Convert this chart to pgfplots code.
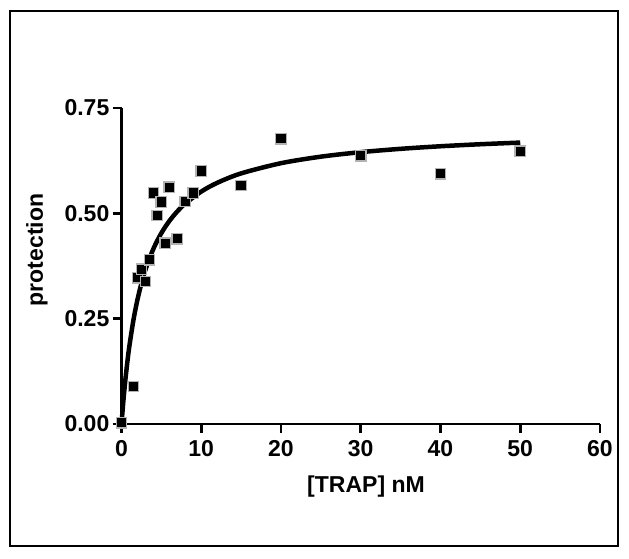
\documentclass[border=0pt]{standalone}
\usepackage{pgfplots}
\pgfplotsset{compat=1.18}
\usepackage{fontspec}
\setmainfont{Liberation Sans}
\begin{document}
\begin{tikzpicture}[x=1pt,y=1pt]
\useasboundingbox (0,0) rectangle (629,559);
\draw[line width=2.5pt] (10,13) rectangle (618,548);
\begin{axis}[
  at={(121.5pt,135pt)}, anchor=south west,
  scale only axis, width=478.5pt, height=316pt,
  xmin=0, xmax=60, ymin=0, ymax=0.75,
  axis x line=bottom, axis y line=left,
  axis line style={line width=2.8pt, -},
  xtick={0,10,20,30,40,50,60},
  xticklabels={0,10,20,30,40,50,60},
  ytick={0,0.25,0.5,0.75},
  yticklabels={0.00,0.25,0.50,0.75},
  tick align=outside, major tick length=9pt,
  tick style={line width=2.8pt, black},
  tick label style={font=\fontsize{23}{26}\selectfont\bfseries},
  xticklabel style={inner sep=2pt, yshift=-5pt},
  yticklabel style={inner sep=3pt},
  clip=false,
]
\addplot[line width=4.5pt, black, smooth] coordinates {
(0,0) (0.25,0.0582) (0.5,0.1075) (0.75,0.1498) (1,0.1865) (1.5,0.2471)
(2,0.295) (2.5,0.3338) (3,0.3659) (4,0.4159) (5,0.4531) (6,0.4818)
(7,0.5046) (8,0.5232) (10,0.5516) (12,0.5724) (15,0.5948) (20,0.619)
(25,0.6345) (30,0.6452) (35,0.6531) (40,0.6592) (45,0.664) (50,0.6679)
};
\addplot[only marks, mark=square*, mark size=5.3pt,
  mark options={fill=black, draw=gray!60, line width=1.2pt}] coordinates {
(0,0.003) (1.5,0.089) (2,0.347) (2.5,0.367) (3,0.338) (3.5,0.39)
(4,0.548) (4.5,0.495) (5,0.527) (5.5,0.429) (6,0.562) (7,0.44)
(8,0.528) (9,0.548) (10,0.60) (15,0.566) (20,0.677) (30,0.637)
(40,0.594) (50,0.647)
};
\end{axis}
\node[rotate=90, font=\fontsize{23}{26}\selectfont\bfseries] at (37,309) {protection};
\node[font=\fontsize{23}{26}\selectfont\bfseries] at (366,72) {[TRAP] nM};
\end{tikzpicture}
\end{document}
